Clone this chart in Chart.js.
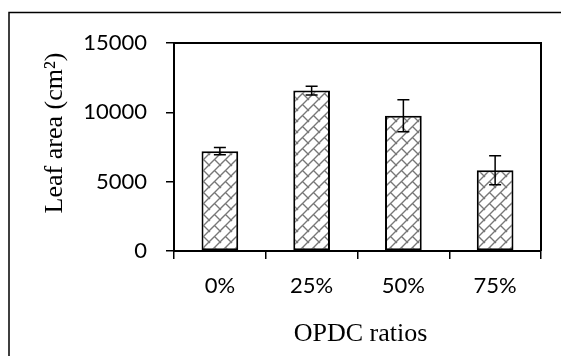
<!DOCTYPE html>
<html>
<head>
<meta charset="utf-8">
<script src="https://cdn.jsdelivr.net/npm/chart.js@4"></script>
<style>
  html, body { margin: 0; padding: 0; background: #fff; }
</style>
</head>
<body>
<canvas id="myChart" width="561" height="356"></canvas>
<script>
// dados (area foliar por proporcao de OPDC)
const ratios = ["0%", "25%", "50%", "75%"];
const leafArea = [7200, 11570, 9750, 5820];
const leafAreaErr = [260, 320, 1150, 1040];
const yTicks = [0, 5000, 10000, 15000];

// padrao "tijolo diagonal" das barras
function brickPattern() {
  const s = 11;
  const c = document.createElement("canvas");
  c.width = s; c.height = s;
  const g = c.getContext("2d");
  g.fillStyle = "#fff";
  g.fillRect(0, 0, s, s);
  g.strokeStyle = "#777";
  g.lineWidth = 1.4;
  g.beginPath();
  g.moveTo(-1, s + 1); g.lineTo(s + 1, -1);
  g.moveTo(s / 2, s / 2); g.lineTo(s + 1, s + 1);
  g.moveTo(-s / 2, -s / 2); g.lineTo(1, 1);
  g.stroke();
  return g.createPattern(c, "repeat");
}

// barras de erro, moldura e titulos dos eixos
const extras = {
  id: "extras",
  afterDatasetsDraw(chart) {
    const ctx = chart.ctx;
    const x = chart.scales.x, y = chart.scales.y;
    const a = chart.chartArea;
    ctx.save();
    ctx.strokeStyle = "#000";
    ctx.lineWidth = 1.5;
    leafArea.forEach((v, i) => {
      const px = x.getPixelForValue(i);
      const top = y.getPixelForValue(v + leafAreaErr[i]);
      const bot = y.getPixelForValue(v - leafAreaErr[i]);
      ctx.beginPath();
      ctx.moveTo(px, top); ctx.lineTo(px, bot);
      ctx.moveTo(px - 6, top); ctx.lineTo(px + 6, top);
      ctx.moveTo(px - 6, bot); ctx.lineTo(px + 6, bot);
      ctx.stroke();
    });
    ctx.lineWidth = 2;
    ctx.beginPath();
    ctx.moveTo(a.left, a.top); ctx.lineTo(a.right, a.top); ctx.lineTo(a.right, a.bottom);
    ctx.stroke();
    ctx.lineWidth = 1.5;
    ctx.beginPath();
    ctx.moveTo(9, 356); ctx.lineTo(9, 12.5); ctx.lineTo(561, 12.5);
    ctx.stroke();
    ctx.fillStyle = "#000";
    ctx.font = "26px 'Liberation Serif'";
    ctx.textAlign = "center";
    ctx.textBaseline = "alphabetic";
    ctx.fillText("OPDC ratios", (a.left + a.right) / 2 + 3, 341);
    ctx.translate(62, 133);
    ctx.rotate(-Math.PI / 2);
    ctx.fillText("Leaf area (cm²)", 0, 0);
    ctx.restore();
  }
};

const tickFont = { family: "Lato", size: 22 };

const config = {
  type: "bar",
  data: {
    labels: ratios,
    datasets: [
      {
        label: "Leaf area",
        data: leafArea,
        backgroundColor: brickPattern(),
        borderColor: "#000",
        borderWidth: 2,
        borderSkipped: false,
        barPercentage: 0.4,
        categoryPercentage: 1,
      },
    ],
  },
  options: {
    responsive: false,
    animation: false,
    layout: { padding: { top: 43, right: 20, left: 0, bottom: 0 } },
    plugins: { legend: { display: false }, tooltip: { enabled: false } },
    scales: {
      x: {
        grid: { offset: true, drawOnChartArea: false, tickLength: 8, color: "#000", lineWidth: 1.5 },
        border: { color: "#000", width: 2 },
        ticks: { color: "#000", font: tickFont, padding: 14 },
        afterFit(s) { s.height = 105; },
      },
      y: {
        min: 0,
        max: 15000,
        afterBuildTicks(s) { s.ticks = yTicks.map((v) => ({ value: v })); },
        grid: { drawOnChartArea: false, tickLength: 8, color: "#000", lineWidth: 1.5 },
        border: { color: "#000", width: 2 },
        ticks: { color: "#000", font: tickFont, padding: 19, callback: (v) => String(v) },
        afterFit(s) { s.width = 174; },
      },
    },
  },
  plugins: [extras],
};

const myChart = new Chart(document.getElementById("myChart"), config);
</script>
</body>
</html>
